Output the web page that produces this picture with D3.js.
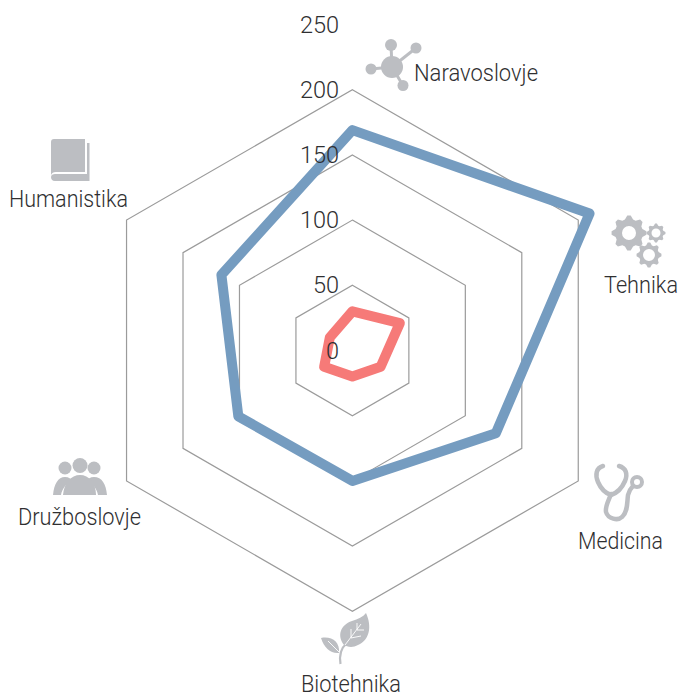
<!DOCTYPE html>
<html>
<head>
<meta charset="utf-8">
<script src="https://cdn.jsdelivr.net/npm/d3@7"></script>
<style>
  html, body { margin: 0; padding: 0; background: #fff; }
  svg { display: block; }
  text { font-family: Roboto, sans-serif; font-weight: 300; fill: #2f2f31; }
</style>
</head>
<body>
<svg id="chart" width="681" height="695"></svg>
<script>
// data
var categories = ["Naravoslovje", "Tehnika", "Medicina", "Biotehnika", "Družboslovje", "Humanistika"];
var blueValues = [169, 210, 127, 100, 101, 116];
var redValues = [30, 42, 25, 20, 25, 20];
var ringTicks = [50, 100, 150, 200];
var tickLabels = [0, 50, 100, 150, 200, 250];

var width = 681, height = 695;
var cx = 352.4, cy = 350.5;
var iconColor = "#bcbec2";

var svg = d3.select("#chart");

var rScale = d3.scaleLinear().domain([0, 250]).range([0, 326]);
var angle = d3.scalePoint().domain(categories.concat(["end"])).range([0, 2 * Math.PI]);

var radial = d3.lineRadial()
    .angle(function(d, i) { return angle(categories[i]); })
    .radius(function(d) { return rScale(d); })
    .curve(d3.curveLinearClosed);

var g = svg.append("g").attr("transform", "translate(" + cx + "," + cy + ")");

// hexagon rings
ringTicks.forEach(function(t) {
    g.append("path")
        .attr("d", radial(categories.map(function() { return t; })))
        .attr("fill", "none")
        .attr("stroke", "#9b9b9b")
        .attr("stroke-width", 1.2);
});

// series
[[redValues, "#f67a78"], [blueValues, "#759cc0"]].forEach(function(s) {
    g.append("path")
        .attr("d", radial(s[0]))
        .attr("fill", "none")
        .attr("stroke", s[1])
        .attr("stroke-width", 10)
        .attr("stroke-linejoin", "round");
});

// value labels
svg.selectAll(".tick-label")
    .data(tickLabels)
    .enter().append("text")
    .attr("class", "tick-label")
    .attr("x", 339)
    .attr("y", function(d) { return cy - rScale(d) + 8; })
    .attr("text-anchor", "end")
    .attr("font-size", 23.5)
    .text(function(d) { return d; });

// category labels, squeezed to the narrow widths of the original font
var labelPos = [[476, 81], [641, 293], [620.5, 549], [351, 692], [79.5, 525], [68.5, 207]];
var labelWidth = [124, 74, 85, 100, 123, 119];
svg.selectAll(".cat-label")
    .data(categories)
    .enter().append("text")
    .attr("class", "cat-label")
    .attr("x", function(d, i) { return labelPos[i][0]; })
    .attr("y", function(d, i) { return labelPos[i][1]; })
    .attr("text-anchor", "middle")
    .attr("font-size", 23.5)
    .attr("textLength", function(d, i) { return labelWidth[i]; })
    .attr("lengthAdjust", "spacingAndGlyphs")
    .text(function(d) { return d; });

// icons
var icons = svg.append("g").attr("fill", iconColor).attr("stroke", "none");

function gear(x, y, rOut, rHole, teeth) {
    var pts = [];
    var n = teeth * 4;
    for (var i = 0; i < n; i++) {
        var a = (i - 0.5) / n * 2 * Math.PI;
        var r = (i % 4 < 2) ? rOut : rOut * 0.8;
        pts.push([x + r * Math.cos(a), y + r * Math.sin(a)]);
    }
    icons.append("path")
        .attr("fill-rule", "evenodd")
        .attr("d", "M" + pts.join("L") + "Z"
            + "M" + (x + rHole) + "," + y
            + "a" + rHole + "," + rHole + " 0 1,0 " + (-2 * rHole) + ",0"
            + "a" + rHole + "," + rHole + " 0 1,0 " + (2 * rHole) + ",0Z");
}

// molecule
var hub = [392, 67];
[[391, 45, 6], [416, 48, 5.5], [371, 69, 5.5], [403, 85.5, 5.5]].forEach(function(n) {
    icons.append("line")
        .attr("x1", hub[0]).attr("y1", hub[1])
        .attr("x2", n[0]).attr("y2", n[1])
        .attr("stroke", iconColor).attr("stroke-width", 3);
    icons.append("circle").attr("cx", n[0]).attr("cy", n[1]).attr("r", n[2]);
});
icons.append("circle").attr("cx", hub[0]).attr("cy", hub[1]).attr("r", 11);

// gears
gear(629, 233, 17.5, 7, 8);
gear(656, 233, 9.5, 4.5, 8);
gear(649, 255, 12.5, 6, 8);

// stethoscope
var steth = svg.append("g").attr("fill", "none").attr("stroke", iconColor)
    .attr("stroke-width", 4.5).attr("stroke-linecap", "round");
steth.append("path").attr("d", "M603,466 C596,468 595,475 598,482 C601,489 605,493 611,495 C617,493 622,488 625,481 C628,474 626,468 619,466");
steth.append("path").attr("stroke-width", 4.5).attr("d", "M611,494 C609,500 605,506 606,512 C608,519 618,521 622,517 C628,512 627,502 628,495 C629,491 631,488 633,486");
steth.append("circle").attr("cx", 637).attr("cy", 482).attr("r", 5).attr("stroke-width", 4);

// leaf
icons.append("path").attr("d", "M366,613 C372,626 370,640 358,645 C353,648 347,647 344,645 C337,636 340,625 352,621 C358,619 363,617 366,613Z");
icons.append("path").attr("d", "M321,638 C332,636 340,642 339,653 C331,654 324,648 321,638Z");
icons.append("path").attr("fill", "none").attr("stroke", iconColor).attr("stroke-width", 2.2)
    .attr("d", "M340.5,664 C339,655 341,648 347,643");
icons.append("path").attr("fill", "none").attr("stroke", "#fff").attr("stroke-width", 0.9)
    .attr("d", "M345,645 L361,624 M351,638 L351,629 M351,638 L361,636 M357,630 L357,623 M357,630 L364,630 M339,652 L328,641");

// people
icons.append("circle").attr("cx", 65).attr("cy", 468).attr("r", 6.5);
icons.append("circle").attr("cx", 94).attr("cy", 468).attr("r", 6.5);
icons.append("path").attr("d", "M53,495 C54,484 58,477 65,477 C69,477 71,479 72,480 C66,484 62,489 61,495Z");
icons.append("path").attr("d", "M107,495 C106,484 102,477 94,477 C90,477 88,479 87,480 C93,484 97,489 98,495Z");
icons.append("circle").attr("cx", 80).attr("cy", 465.5).attr("r", 7.5);
icons.append("path").attr("d", "M63,495 C64,483 71,475 80,475 C89,475 96,483 96,495Z");

// book
icons.append("path").attr("d", "M54,139 H85 V172 H56 C53,172 51,173.5 51,176 V142 C51,140 52,139 54,139Z");
icons.append("path").attr("d", "M87,143 H89.5 V181 H55 C52,181 51,179 51,177 C51,175 53,174 55,174 H87Z");
</script>
</body>
</html>
